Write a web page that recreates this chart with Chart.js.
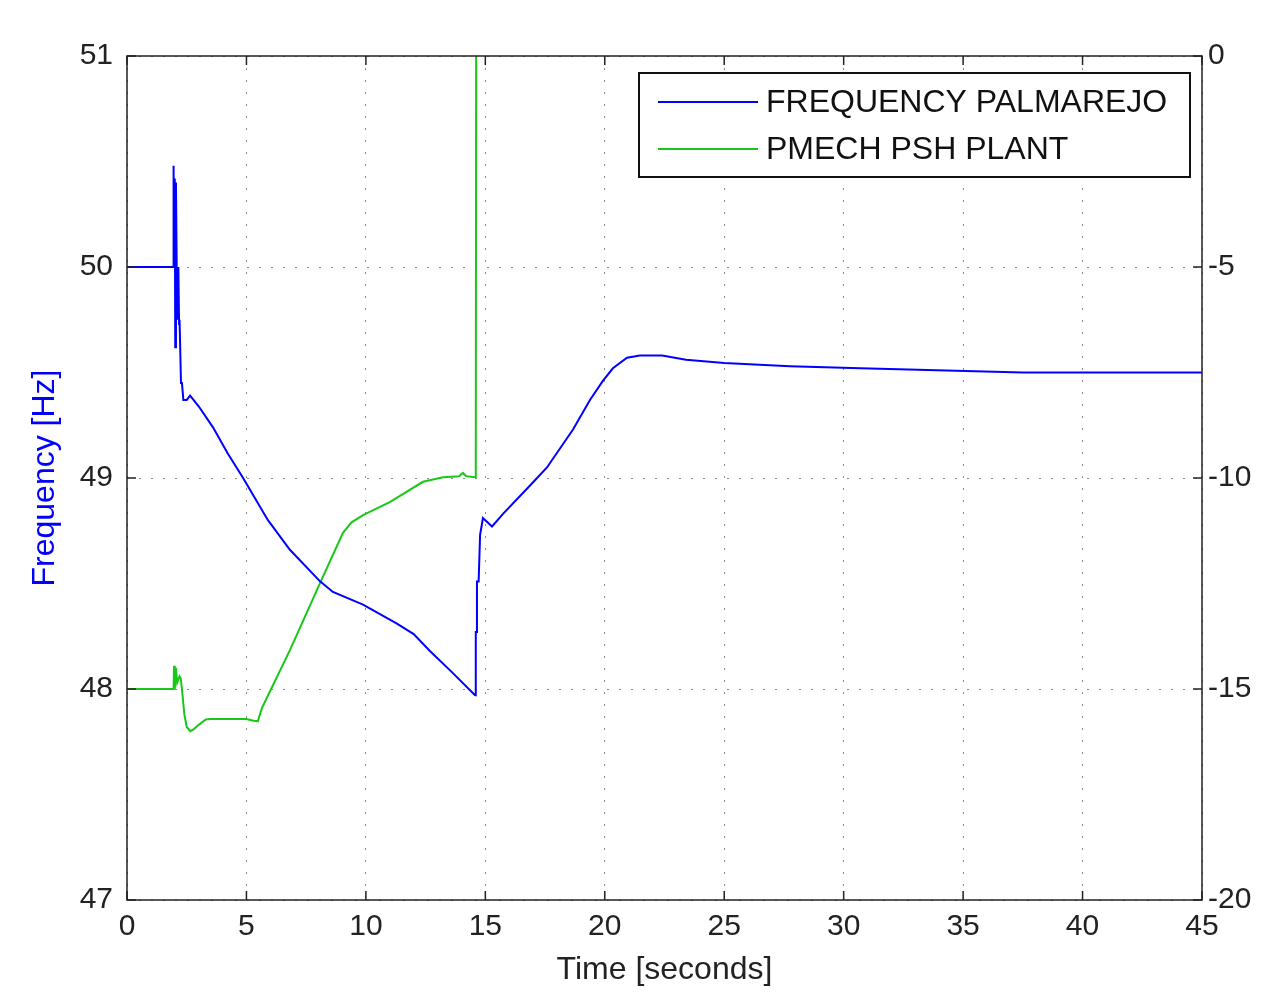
<!DOCTYPE html>
<html lang="en">
<head>
  <meta charset="UTF-8">
  <title>Frequency Palmarejo</title>
  <script src="https://cdn.jsdelivr.net/npm/chart.js"></script>
  <style>
    body { margin: 0; background: #fff; }
  </style>
</head>
<body>
  <canvas id="freqChart" width="1264" height="992"></canvas>

  <script>
    // blue trace: frequency at Palmarejo (left axis, Hz)
    const freqTime = [0, 1.94, 1.95, 1.97, 2.0, 2.02, 2.05, 2.1, 2.15, 2.18, 2.2, 2.26, 2.3, 2.36, 2.5, 2.64,
      3.0, 3.6, 4.2, 4.86, 5.9, 6.82, 8.08, 8.62, 9.88, 11.3, 12.0, 12.68, 13.6, 14.57,
      14.6, 14.63, 14.65, 14.72, 14.78, 14.9, 15.28, 15.74, 17.0, 17.58, 18.67, 19.38, 19.92, 20.34, 20.93, 21.47,
      22.4, 23.4, 25, 27.75, 30.7, 37.5, 45];
    const freqHz = [50, 50, 50.48, 50.0, 50.42, 49.62, 50.4, 49.75, 50.0, 49.73, 49.75, 49.45, 49.45, 49.37, 49.37, 49.39,
      49.34, 49.24, 49.12, 49.0, 48.8, 48.66, 48.51, 48.46, 48.4, 48.31, 48.26, 48.18, 48.08, 47.97,
      48.27, 48.27, 48.51, 48.51, 48.73, 48.81, 48.77, 48.83, 48.98, 49.05, 49.23, 49.37, 49.46, 49.52, 49.57, 49.58,
      49.58, 49.56, 49.545, 49.53, 49.52, 49.5, 49.5];

    // green trace: mechanical power of PSH plant (right axis)
    const pmechTime = [0, 1.95, 1.97, 2.0, 2.05, 2.1, 2.2, 2.25, 2.3, 2.4, 2.5, 2.65, 2.8, 3.0, 3.3, 3.5,
      5.0, 5.3, 5.48, 5.65, 6.82, 8.08, 9.04, 9.4, 9.88, 11.0, 12.39, 13.23, 13.9, 14.06, 14.2, 14.6, 14.62];
    const pmechVal = [-15, -15, -14.45, -15.0, -14.5, -14.85, -14.7, -14.75, -15.0, -15.6, -15.9, -16.0, -15.95, -15.85, -15.72, -15.71,
      -15.71, -15.75, -15.76, -15.45, -14.08, -12.49, -11.3, -11.05, -10.88, -10.57, -10.09, -9.98, -9.96, -9.88, -9.96, -9.98, 3];

    const timeTicks = [0, 5, 10, 15, 20, 25, 30, 35, 40, 45];
    const seriesNames = ['FREQUENCY PALMAREJO', 'PMECH PSH PLANT'];
    const blue = '#0000ff';
    const green = '#18c818';
    const fontName = "'Liberation Sans', Arial, sans-serif";

    const toPoints = (xs, ys) => xs.map((x, i) => ({ x: x, y: ys[i] }));

    // box around plot, ticks pointing inward, legend inside the axes
    const framePlugin = {
      id: 'frame',
      afterDatasetsDraw(chart) {
        const { ctx, chartArea: a, scales } = chart;
        ctx.save();
        ctx.strokeStyle = '#222';
        ctx.lineWidth = 1.5;
        ctx.strokeRect(a.left, a.top, a.right - a.left, a.bottom - a.top);
        const len = 9;
        ctx.beginPath();
        timeTicks.forEach(t => {
          const px = scales.x.getPixelForValue(t);
          ctx.moveTo(px, a.bottom); ctx.lineTo(px, a.bottom - len);
          ctx.moveTo(px, a.top); ctx.lineTo(px, a.top + len);
        });
        scales.y.ticks.forEach(tk => {
          const py = scales.y.getPixelForValue(tk.value);
          ctx.moveTo(a.left, py); ctx.lineTo(a.left + len, py);
        });
        scales.y2.ticks.forEach(tk => {
          const py = scales.y2.getPixelForValue(tk.value);
          ctx.moveTo(a.right, py); ctx.lineTo(a.right - len, py);
        });
        ctx.stroke();

        // legend
        const bx = 639, by = 73, bw = 551, bh = 104;
        ctx.fillStyle = '#fff';
        ctx.fillRect(bx, by, bw, bh);
        ctx.strokeStyle = '#111';
        ctx.lineWidth = 2;
        ctx.strokeRect(bx, by, bw, bh);
        const rows = [[seriesNames[0], blue, 102], [seriesNames[1], green, 149]];
        ctx.font = '32px ' + fontName;
        ctx.textBaseline = 'middle';
        rows.forEach(r => {
          ctx.strokeStyle = r[1];
          ctx.lineWidth = 2;
          ctx.beginPath();
          ctx.moveTo(658, r[2]); ctx.lineTo(758, r[2]);
          ctx.stroke();
          ctx.fillStyle = '#111';
          ctx.fillText(r[0], 766, r[2] + 1);
        });
        ctx.restore();
      }
    };

    const gridDots = { color: '#8a8a8a', lineWidth: 1, drawTicks: false };

    new Chart(document.getElementById('freqChart'), {
      type: 'line',
      data: {
        datasets: [
          {
            label: seriesNames[0],
            data: toPoints(freqTime, freqHz),
            yAxisID: 'y',
            borderColor: blue,
            borderWidth: 2,
            pointRadius: 0,
            tension: 0,
            clip: 0
          },
          {
            label: seriesNames[1],
            data: toPoints(pmechTime, pmechVal),
            yAxisID: 'y2',
            borderColor: green,
            borderWidth: 2,
            pointRadius: 0,
            tension: 0,
            clip: 0
          }
        ]
      },
      options: {
        responsive: false,
        animation: false,
        layout: { padding: { top: 56, left: 0, right: 0, bottom: 0 } },
        plugins: {
          legend: { display: false },
          tooltip: { enabled: false }
        },
        scales: {
          x: {
            type: 'linear',
            min: 0,
            max: 45,
            afterBuildTicks: s => { s.ticks = timeTicks.map(v => ({ value: v })); },
            afterFit: s => { s.height = 92; },
            grid: gridDots,
            border: { display: false, dash: [2, 10] },
            ticks: { color: '#222', padding: 9, maxRotation: 0, font: { family: fontName, size: 30 } },
            title: {
              display: true,
              text: 'Time [seconds]',
              color: '#222',
              padding: { top: 0, bottom: 3 },
              font: { family: fontName, size: 32 }
            }
          },
          y: {
            position: 'left',
            min: 47,
            max: 51,
            ticks: { stepSize: 1, color: '#222', padding: 14, font: { family: fontName, size: 30 } },
            afterFit: s => { s.width = 127; },
            grid: gridDots,
            border: { display: false, dash: [2, 10] },
            title: {
              display: true,
              text: 'Frequency [Hz]',
              color: blue,
              padding: { top: 26, bottom: 0 },
              font: { family: fontName, size: 32 }
            }
          },
          y2: {
            position: 'right',
            min: -20,
            max: 0,
            ticks: { stepSize: 5, color: '#222', padding: 6, font: { family: fontName, size: 30 } },
            afterFit: s => { s.width = 62; },
            grid: { drawOnChartArea: false, drawTicks: false },
            border: { display: false }
          }
        }
      },
      plugins: [framePlugin]
    });
  </script>
</body>
</html>
